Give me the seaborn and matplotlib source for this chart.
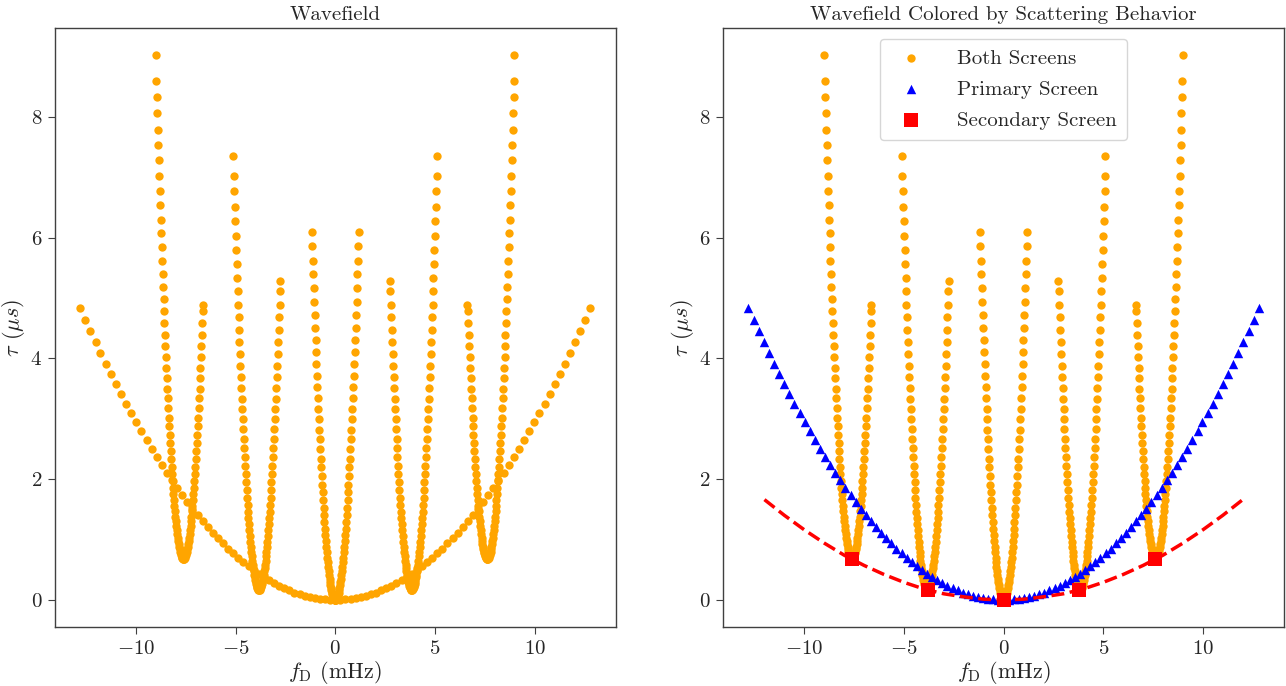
import matplotlib
matplotlib.use("Agg")
import matplotlib.pyplot as plt
import seaborn as sns

# ---------------- data ----------------
# primary screen parabola (half, f >= 0), mirrored for f < 0
prim_f_half = [0.00, 0.26, 0.51, 0.77, 1.02, 1.28, 1.54, 1.79, 2.05, 2.30, 2.56, 2.82, 3.07, 3.33, 3.58, 3.84,
               4.10, 4.35, 4.61, 4.86, 5.12, 5.38, 5.63, 5.89, 6.14, 6.40, 6.66, 6.91, 7.17, 7.42, 7.68, 7.94,
               8.19, 8.45, 8.70, 8.96, 9.22, 9.47, 9.73, 9.98, 10.24, 10.50, 10.75, 11.01, 11.26, 11.52, 11.78,
               12.03, 12.29, 12.54, 12.80]
prim_tau_half = [0.00, 0.00, 0.01, 0.02, 0.03, 0.05, 0.07, 0.09, 0.12, 0.16, 0.19, 0.23, 0.28, 0.33, 0.38, 0.43,
                 0.49, 0.56, 0.63, 0.70, 0.77, 0.85, 0.94, 1.02, 1.11, 1.21, 1.31, 1.41, 1.51, 1.62, 1.74, 1.86,
                 1.98, 2.10, 2.23, 2.37, 2.50, 2.64, 2.79, 2.94, 3.09, 3.25, 3.41, 3.57, 3.74, 3.91, 4.09, 4.27,
                 4.45, 4.64, 4.83]

# both-screens arc through the central secondary image (half, mirrored)
arc0_f_half = [0.00, 0.02, 0.05, 0.07, 0.09, 0.12, 0.14, 0.17, 0.19, 0.21, 0.24, 0.26, 0.28, 0.31, 0.33, 0.36,
               0.38, 0.40, 0.43, 0.45, 0.47, 0.50, 0.52, 0.54, 0.57, 0.59, 0.62, 0.64, 0.66, 0.69, 0.71, 0.73,
               0.76, 0.78, 0.81, 0.83, 0.85, 0.88, 0.90, 0.92, 0.95, 0.97, 0.99, 1.02, 1.04, 1.07, 1.09, 1.11,
               1.14, 1.16, 1.18]
arc0_tau_half = [0.00, 0.00, 0.01, 0.02, 0.04, 0.06, 0.09, 0.12, 0.16, 0.20, 0.24, 0.30, 0.35, 0.41, 0.48, 0.55,
                 0.62, 0.70, 0.79, 0.88, 0.98, 1.08, 1.18, 1.29, 1.40, 1.52, 1.65, 1.78, 1.91, 2.05, 2.20, 2.34,
                 2.50, 2.66, 2.82, 2.99, 3.16, 3.34, 3.52, 3.71, 3.90, 4.10, 4.30, 4.51, 4.72, 4.94, 5.16, 5.39,
                 5.62, 5.86, 6.10]

# arc through the secondary image at f = -3.8 (mirrored for +3.8)
arc1_f = [-5.11, -5.09, -5.07, -5.04, -5.02, -5.00, -4.97, -4.95, -4.92, -4.90, -4.88, -4.85, -4.83, -4.81,
          -4.78, -4.76, -4.73, -4.71, -4.69, -4.66, -4.64, -4.62, -4.59, -4.57, -4.55, -4.52, -4.50, -4.47,
          -4.45, -4.43, -4.40, -4.38, -4.36, -4.33, -4.31, -4.28, -4.26, -4.24, -4.21, -4.19, -4.17, -4.14,
          -4.12, -4.10, -4.07, -4.05, -4.02, -4.00, -3.98, -3.95, -3.93, -3.91, -3.88, -3.86, -3.84, -3.81,
          -3.79, -3.76, -3.74, -3.72, -3.69, -3.67, -3.65, -3.62, -3.60, -3.57, -3.55, -3.53, -3.50, -3.48,
          -3.46, -3.43, -3.41, -3.39, -3.36, -3.34, -3.31, -3.29, -3.27, -3.24, -3.22, -3.20, -3.17, -3.15,
          -3.12, -3.10, -3.08, -3.05, -3.03, -3.01, -2.98, -2.96, -2.94, -2.91, -2.89, -2.86, -2.84, -2.82,
          -2.79, -2.77, -2.75]
arc1_tau = [7.35, 7.02, 6.77, 6.51, 6.27, 6.03, 5.79, 5.56, 5.33, 5.11, 4.89, 4.68, 4.47, 4.27, 4.07, 3.88,
            3.69, 3.51, 3.33, 3.16, 2.99, 2.83, 2.67, 2.51, 2.37, 2.22, 2.08, 1.95, 1.82, 1.69, 1.57, 1.46,
            1.35, 1.25, 1.15, 1.05, 0.96, 0.87, 0.79, 0.72, 0.65, 0.58, 0.52, 0.47, 0.41, 0.37, 0.33, 0.29,
            0.26, 0.23, 0.21, 0.19, 0.18, 0.17, 0.17, 0.17, 0.18, 0.19, 0.21, 0.23, 0.26, 0.29, 0.33, 0.37,
            0.41, 0.47, 0.52, 0.58, 0.65, 0.72, 0.79, 0.87, 0.96, 1.05, 1.15, 1.25, 1.35, 1.46, 1.57, 1.69,
            1.82, 1.95, 2.08, 2.22, 2.37, 2.51, 2.67, 2.83, 2.99, 3.16, 3.33, 3.51, 3.69, 3.88, 4.07, 4.27,
            4.47, 4.68, 4.89, 5.11, 5.28]

# arc through the secondary image at f = -7.6 (mirrored for +7.6)
arc2_f = [-8.99, -8.97, -8.95, -8.92, -8.90, -8.88, -8.85, -8.83, -8.80, -8.78, -8.76, -8.73, -8.71, -8.69,
          -8.66, -8.64, -8.61, -8.59, -8.57, -8.54, -8.52, -8.50, -8.47, -8.45, -8.43, -8.40, -8.38, -8.35,
          -8.33, -8.31, -8.28, -8.26, -8.24, -8.21, -8.19, -8.16, -8.14, -8.12, -8.09, -8.07, -8.05, -8.02,
          -8.00, -7.98, -7.95, -7.93, -7.90, -7.88, -7.86, -7.83, -7.81, -7.79, -7.76, -7.74, -7.71, -7.69,
          -7.67, -7.64, -7.62, -7.60, -7.57, -7.55, -7.53, -7.50, -7.48, -7.45, -7.43, -7.41, -7.38, -7.36,
          -7.34, -7.31, -7.29, -7.26, -7.24, -7.22, -7.19, -7.17, -7.15, -7.12, -7.10, -7.08, -7.05, -7.03,
          -7.00, -6.98, -6.96, -6.93, -6.91, -6.89, -6.86, -6.84, -6.81, -6.79, -6.77, -6.74, -6.72, -6.70,
          -6.67, -6.65, -6.63]
arc2_tau = [9.02, 8.60, 8.33, 8.06, 7.79, 7.53, 7.28, 7.02, 6.78, 6.54, 6.30, 6.07, 5.84, 5.62, 5.40, 5.19,
            4.98, 4.78, 4.58, 4.39, 4.20, 4.02, 3.84, 3.67, 3.50, 3.34, 3.18, 3.02, 2.88, 2.73, 2.59, 2.46,
            2.33, 2.20, 2.08, 1.97, 1.86, 1.76, 1.66, 1.56, 1.47, 1.38, 1.30, 1.23, 1.16, 1.09, 1.03, 0.98,
            0.92, 0.88, 0.84, 0.80, 0.77, 0.74, 0.72, 0.70, 0.69, 0.68, 0.68, 0.68, 0.69, 0.70, 0.72, 0.74,
            0.77, 0.80, 0.84, 0.88, 0.92, 0.98, 1.03, 1.09, 1.16, 1.23, 1.30, 1.38, 1.47, 1.56, 1.66, 1.76,
            1.86, 1.97, 2.08, 2.20, 2.33, 2.46, 2.59, 2.73, 2.88, 3.02, 3.18, 3.34, 3.50, 3.67, 3.84, 4.02,
            4.20, 4.39, 4.58, 4.78, 4.88]

# secondary screen images and its parabola (dashed)
sec_f = [-7.6, -3.8, 0.0, 3.8, 7.6]
sec_tau = [0.68, 0.17, 0.00, 0.17, 0.68]
sec_curve_f = [-12, -11, -10, -9, -8, -7, -6, -5, -4, -3, -2, -1, 0, 1, 2, 3, 4, 5, 6, 7, 8, 9, 10, 11, 12]
sec_curve_tau = [1.66, 1.40, 1.16, 0.94, 0.74, 0.57, 0.42, 0.29, 0.18, 0.10, 0.05, 0.01, 0.00, 0.01, 0.05,
                 0.10, 0.18, 0.29, 0.42, 0.57, 0.74, 0.94, 1.16, 1.40, 1.66]

titles = ["Wavefield", "Wavefield Colored by Scattering Behavior"]
legend_labels = ["Both Screens", "Primary Screen", "Secondary Screen"]


def mirrored(f_half, t_half):
    f = [-v for v in reversed(f_half[1:])] + list(f_half)
    t = list(reversed(t_half[1:])) + list(t_half)
    return f, t


prim_f, prim_tau = mirrored(prim_f_half, prim_tau_half)
arc0_f, arc0_tau = mirrored(arc0_f_half, arc0_tau_half)
both_f = arc0_f + arc1_f + [-v for v in arc1_f] + arc2_f + [-v for v in arc2_f]
both_tau = arc0_tau + arc1_tau + arc1_tau + arc2_tau + arc2_tau

all_f = both_f + prim_f + sec_f
all_tau = both_tau + prim_tau + sec_tau

# ---------------- style ----------------
sns.set_style("ticks")
plt.rcParams.update({
    "font.family": "serif",
    "font.serif": ["cmr10"],
    "mathtext.fontset": "cm",
    "axes.formatter.use_mathtext": True,
    "axes.edgecolor": "0.25",
    "axes.linewidth": 1.0,
    "xtick.color": "0.25",
    "ytick.color": "0.25",
    "xtick.labelcolor": "0.15",
    "ytick.labelcolor": "0.15",
    "xtick.major.size": 5,
    "ytick.major.size": 5,
})

ORANGE = "#FFA500"
fig = plt.figure(figsize=(12.86, 6.86), dpi=100)
ax1 = fig.add_axes([0.0425, 0.086, 0.4364, 0.873])
ax2 = fig.add_axes([0.5622, 0.086, 0.4364, 0.873])

# left: everything in orange
sns.scatterplot(x=all_f, y=all_tau, ax=ax1, color=ORANGE, s=36, linewidth=0, marker="o")

# right: coloured by scattering behaviour
sns.scatterplot(x=both_f, y=both_tau, ax=ax2, color=ORANGE, s=36, linewidth=0, marker="o",
                label=legend_labels[0])
sns.scatterplot(x=prim_f, y=prim_tau, ax=ax2, color="blue", s=46, linewidth=0, marker="^",
                label=legend_labels[1])
sns.lineplot(x=sec_curve_f, y=sec_curve_tau, ax=ax2, color="red", linestyle="--", linewidth=2.5,
             label="_nolegend_")
sns.scatterplot(x=sec_f, y=sec_tau, ax=ax2, color="red", s=90, linewidth=0, marker="s",
                label=legend_labels[2], zorder=5)

for ax, title in zip([ax1, ax2], titles):
    ax.set_xlim(-14.08, 14.08)
    ax.set_ylim(-0.45, 9.47)
    ax.set_xticks([-10, -5, 0, 5, 10])
    ax.set_yticks([0, 2, 4, 6, 8])
    ax.tick_params(labelsize=15, pad=4)
    ax.set_title(title, fontsize=15, pad=6)
    ax.set_xlabel(r"$f_{\rm D}$ (mHz)", fontsize=16, labelpad=1)
    ax.set_ylabel(r"$\tau$ ($\mu s$)", fontsize=16, labelpad=2)
    for sp in ax.spines.values():
        sp.set_visible(True)

ax2.legend(loc="upper center", fontsize=15, frameon=True, labelspacing=0.6, handletextpad=1.2,
           borderpad=0.5)

fig.savefig("out.png", dpi=100)
